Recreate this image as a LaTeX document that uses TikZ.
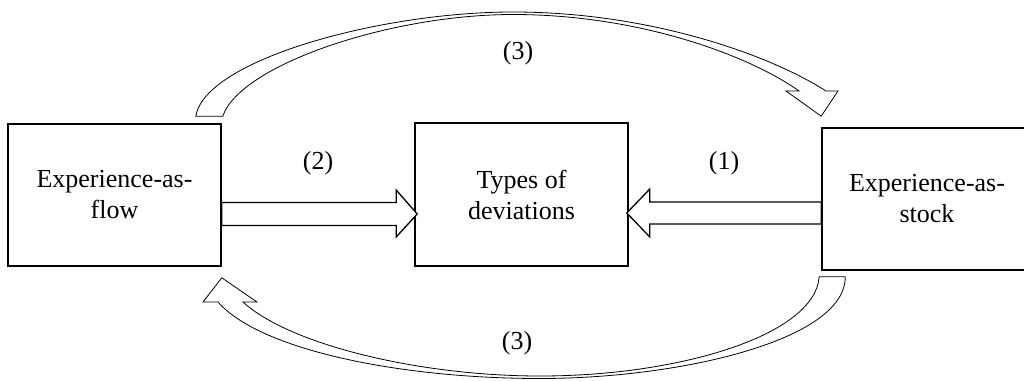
\documentclass[tikz,border=0pt]{standalone}
\usepackage{fontspec}
\setmainfont{Liberation Serif}
\usetikzlibrary{calc}
\begin{document}
\begin{tikzpicture}[x=1pt,y=-1pt,
  box/.style={draw=black,line width=1.6pt,fill=white,align=center,inner sep=0pt,
    font=\fontsize{26}{31}\selectfont},
  lbl/.style={inner sep=0pt,font=\fontsize{26}{31}\selectfont},
  blockarrow/.style={draw=black,line width=1.3pt,fill=white,line join=miter},
  curvearrow/.style={draw=black,line width=0.8pt,fill=white,line join=miter}]
\useasboundingbox (0,0) rectangle (1024,380);

% the three boxes
\node[box,minimum width=213pt,minimum height=142pt] (flow) at (114.5,195) {Experience-as-\\flow};
\node[box,minimum width=213pt,minimum height=143pt] (dev) at (521.5,194.5) {Types of\\deviations};
\node[box,minimum width=210pt,minimum height=142pt] (stock) at (927,199) {Experience-as-\\stock};

% straight block arrow (2): flow -> deviations
\coordinate (t2) at ($(dev.west)+(3,19.5)$);
\coordinate (s2) at (flow.east |- t2);
\draw[blockarrow] ($(s2)+(0,-11.5)$) -- ($(t2)+(-21,-11.5)$) -- ($(t2)+(-21,-24)$)
  -- (t2) -- ($(t2)+(-21,23)$) -- ($(t2)+(-21,11.5)$) -- ($(s2)+(0,11.5)$) -- cycle;

% straight block arrow (1): stock -> deviations
\coordinate (t1) at ($(dev.east)+(-2,18.5)$);
\coordinate (s1) at (stock.west |- t1);
\draw[blockarrow] ($(s1)+(0,-11)$) -- ($(t1)+(23,-11)$) -- ($(t1)+(23,-24)$)
  -- (t1) -- ($(t1)+(23,24)$) -- ($(t1)+(23,11)$) -- ($(s1)+(0,11)$) -- cycle;

% curved block arrow over the top: flow -> stock
\coordinate (taout) at ($(flow.north east)+(-26,-7)$);
\coordinate (tain) at ($(flow.north east)+(1,-7)$);
\coordinate (tt) at ($(stock.north west)+(0,-11)$);
\draw[curvearrow] (taout) .. controls (205,60) and (380,12) .. (513,12)
  .. controls (650,12) and (770,55) .. (826,91) -- (838,91) -- (tt) -- (786,91) -- (799,91)
  .. controls (750,56) and (640,14.5) .. (513,14.5)
  .. controls (390,14.5) and (240,65) .. (tain) -- cycle;

% curved block arrow underneath: stock -> flow
\coordinate (baout) at ($(stock.south west)+(24,6)$);
\coordinate (bain) at ($(stock.south west)+(-2,6)$);
\coordinate (bt) at ($(flow.south east)+(0,11)$);
\draw[curvearrow] (baout) .. controls (846,340) and (680,378.5) .. (540,378.5)
  .. controls (400,378.5) and (260,350) .. (218,302) -- (203,302) -- (bt) -- (257,302) -- (243,302)
  .. controls (290,345) and (420,376) .. (540,376)
  .. controls (680,376) and (815,335) .. (bain) -- cycle;

% labels
\node[lbl] (l3top) at (518,53) {(3)};
\node[lbl] (l2) at (318,163) {(2)};
\node[lbl] (l1) at (724,163) {(1)};
\node[lbl] (l3bot) at (517,343) {(3)};
\end{tikzpicture}
\end{document}
